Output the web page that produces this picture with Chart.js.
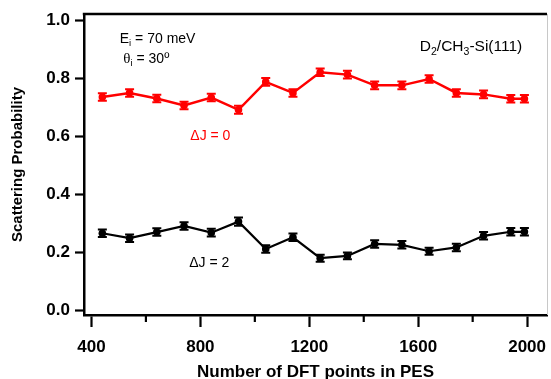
<!DOCTYPE html>
<html><head><meta charset="utf-8">
<script src="https://cdn.jsdelivr.net/npm/chart.js@4/dist/chart.umd.min.js"></script>
<style>html,body{margin:0;padding:0;background:#fff;}canvas{display:block;}</style>
</head><body>
<canvas id="c" width="551" height="379"></canvas>
<script>
// ---- data ----
const dftPoints = [440, 540, 640, 740, 840, 940, 1040, 1140, 1240, 1340, 1440, 1540, 1640, 1740, 1840, 1940, 1990];
const probDJ0 = [0.735, 0.749, 0.730, 0.706, 0.733, 0.691, 0.787, 0.749, 0.820, 0.812, 0.775, 0.775, 0.797, 0.749, 0.744, 0.729, 0.729];
const errDJ0  = [0.013, 0.013, 0.013, 0.013, 0.013, 0.014, 0.013, 0.013, 0.013, 0.013, 0.013, 0.013, 0.013, 0.013, 0.013, 0.013, 0.013];
const probDJ2 = [0.266, 0.249, 0.270, 0.291, 0.268, 0.306, 0.212, 0.252, 0.180, 0.188, 0.229, 0.226, 0.204, 0.217, 0.257, 0.271, 0.271];
const errDJ2  = [0.013, 0.013, 0.013, 0.013, 0.013, 0.014, 0.013, 0.013, 0.012, 0.012, 0.013, 0.013, 0.012, 0.013, 0.013, 0.013, 0.013];
const xTickValues = [400, 800, 1200, 1600, 2000];
const xMinorTickValues = [600, 1000, 1400, 1800];
const yTickValues = [0, 0.2, 0.4, 0.6, 0.8, 1.0];
const seriesLabels = ['ΔJ = 0', 'ΔJ = 2'];
const xTitle = 'Number of DFT points in PES';
const yTitle = 'Scattering Probability';

const FONT = '"Liberation Sans", Arial, sans-serif';

const errorBarPlugin = {
  id: 'errorBars',
  afterDatasetDraw(chart, args) {
    const ds = chart.data.datasets[args.index];
    if (!ds.errors) return;
    const meta = args.meta;
    const ys = chart.scales.y;
    const ctx = chart.ctx;
    ctx.save();
    ctx.strokeStyle = ds.borderColor;
    ctx.lineWidth = 2;
    meta.data.forEach((pt, i) => {
      const v = ds.data[i].y, e = ds.errors[i];
      const x = pt.x;
      const y1 = ys.getPixelForValue(v - e), y2 = ys.getPixelForValue(v + e);
      ctx.beginPath();
      ctx.moveTo(x, y1); ctx.lineTo(x, y2);
      ctx.moveTo(x - 4.5, y1); ctx.lineTo(x + 4.5, y1);
      ctx.moveTo(x - 4.5, y2); ctx.lineTo(x + 4.5, y2);
      ctx.stroke();
    });
    ctx.restore();
  }
};

const framePlugin = {
  id: 'frame',
  afterDraw(chart) {
    const {ctx, chartArea: a} = chart;
    const xs = chart.scales.x;
    ctx.save();
    ctx.strokeStyle = '#000';
    ctx.lineWidth = 2.5;
    ctx.beginPath();
    ctx.moveTo(a.left - 1.2, a.top); ctx.lineTo(a.right, a.top);
    ctx.stroke();
    ctx.strokeStyle = '#c8c8c8';
    ctx.lineWidth = 1;
    ctx.beginPath();
    ctx.moveTo(a.right + 0.5, a.top); ctx.lineTo(a.right + 0.5, a.bottom);
    ctx.stroke();
    // minor ticks
    ctx.strokeStyle = '#000';
    ctx.lineWidth = 2.2;
    xMinorTickValues.forEach(v => {
      const x = xs.getPixelForValue(v);
      ctx.beginPath();
      ctx.moveTo(x, a.bottom); ctx.lineTo(x, a.bottom + 7);
      ctx.stroke();
    });
    ctx.restore();
  }
};

function drawRich(ctx, parts, x, y, color) {
  ctx.fillStyle = color;
  ctx.textBaseline = 'alphabetic';
  ctx.textAlign = 'left';
  let cx = x;
  parts.forEach(p => {
    ctx.font = p.font;
    ctx.fillText(p.t, cx, y + (p.dy || 0));
    cx += ctx.measureText(p.t).width;
  });
}

const annotationPlugin = {
  id: 'notes',
  afterDraw(chart) {
    const {ctx} = chart;
    const xs = chart.scales.x, ys = chart.scales.y;
    const n = '14px ' + FONT, s = '9.5px ' + FONT, g = '15px "Liberation Serif", serif';
    const n2 = '15.5px ' + FONT, s2 = '10.5px ' + FONT;
    ctx.save();
    drawRich(ctx, [{t: 'E', font: n}, {t: 'i', font: s, dy: 3}, {t: ' = 70 meV', font: n}],
      xs.getPixelForValue(504), ys.getPixelForValue(0.921), '#000');
    drawRich(ctx, [{t: 'θ', font: g}, {t: 'i', font: s, dy: 3}, {t: ' = 30º', font: n}],
      xs.getPixelForValue(517), ys.getPixelForValue(0.852), '#000');
    drawRich(ctx, [{t: 'D', font: n2}, {t: '2', font: s2, dy: 3.5}, {t: '/CH', font: n2}, {t: '3', font: s2, dy: 3.5}, {t: '-Si(111)', font: n2}],
      xs.getPixelForValue(1606), ys.getPixelForValue(0.893), '#000');
    drawRich(ctx, [{t: seriesLabels[0], font: n}], xs.getPixelForValue(763), ys.getPixelForValue(0.586), '#ff0000');
    drawRich(ctx, [{t: seriesLabels[1], font: n}], xs.getPixelForValue(759), ys.getPixelForValue(0.150), '#000');
    ctx.restore();
  }
};

new Chart(document.getElementById('c'), {
  type: 'line',
  data: {
    datasets: [
      {
        label: seriesLabels[0],
        data: dftPoints.map((x, i) => ({x, y: probDJ0[i]})),
        errors: errDJ0,
        borderColor: '#ff0000', backgroundColor: '#ff0000',
        borderWidth: 2.5, pointRadius: 3.8, pointBorderWidth: 0, tension: 0
      },
      {
        label: seriesLabels[1],
        data: dftPoints.map((x, i) => ({x, y: probDJ2[i]})),
        errors: errDJ2,
        borderColor: '#000000', backgroundColor: '#000000',
        borderWidth: 2.2, pointRadius: 3.8, pointBorderWidth: 0, tension: 0
      }
    ]
  },
  options: {
    responsive: false, animation: false, devicePixelRatio: 1,
    layout: {padding: {top: 14, right: 1, left: 0, bottom: 0}},
    plugins: {legend: {display: false}, tooltip: {enabled: false}},
    scales: {
      x: {
        type: 'linear', min: 372.6, max: 2073,
        afterBuildTicks: s => { s.ticks = xTickValues.map(v => ({value: v})); },
        afterFit: s => { s.height = 64; s.paddingLeft = 0; s.paddingRight = 0; },
        grid: {drawOnChartArea: false, tickLength: 12, tickWidth: 2.2, tickColor: '#000'},
        border: {display: true, color: '#000', width: 2.5},
        ticks: {color: '#000', padding: 10, maxRotation: 0, autoSkip: false,
          font: {family: FONT, size: 17, weight: 'bold'}, callback: v => String(v)},
        title: {display: true, text: xTitle, color: '#000',
          font: {family: FONT, size: 17, weight: 'bold'}, padding: {top: 0, bottom: -4}}
      },
      y: {
        type: 'linear', min: -0.0155, max: 1.0207,
        afterBuildTicks: s => { s.ticks = yTickValues.map(v => ({value: v})); },
        afterFit: s => { s.width = 84; s.paddingTop = 0; s.paddingBottom = 0; },
        grid: {drawOnChartArea: false, tickLength: 9, tickWidth: 2.2, tickColor: '#000'},
        border: {display: true, color: '#000', width: 2.5},
        ticks: {color: '#000', padding: 5,
          font: {family: FONT, size: 17, weight: 'bold'}, callback: v => Number(v).toFixed(1)},
        title: {display: true, text: yTitle, color: '#000',
          font: {family: FONT, size: 15, weight: 'bold'}, padding: {top: 9, bottom: 0}}
      }
    }
  },
  plugins: [errorBarPlugin, framePlugin, annotationPlugin]
});
</script>
</body></html>
